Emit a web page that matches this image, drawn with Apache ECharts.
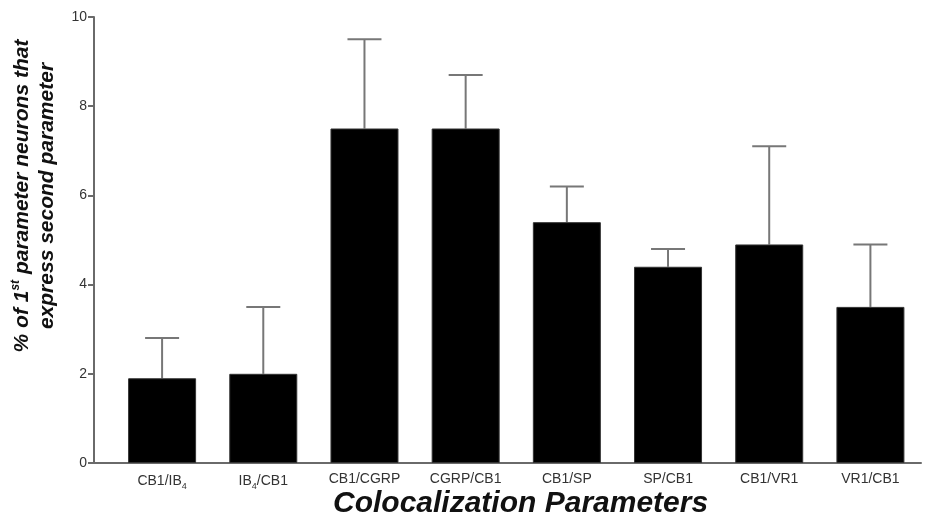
<!DOCTYPE html>
<html>
<head>
<meta charset="utf-8">
<script src="https://cdn.jsdelivr.net/npm/echarts@6/dist/echarts.min.js"></script>
<style>html,body{margin:0;padding:0;background:#fff;}#c{width:929px;height:519px;}</style>
</head>
<body>
<div id="c"></div>
<script>
const categories = ['CB1/IB4', 'IB4/CB1', 'CB1/CGRP', 'CGRP/CB1', 'CB1/SP', 'SP/CB1', 'CB1/VR1', 'VR1/CB1'];
const categoryLabels = ['CB1/IB{sub|4}', 'IB{sub|4}/CB1', 'CB1/CGRP', 'CGRP/CB1', 'CB1/SP', 'SP/CB1', 'CB1/VR1', 'VR1/CB1'];
const means = [1.9, 2.0, 7.5, 7.5, 5.4, 4.4, 4.9, 3.5];
const errTops = [2.8, 3.5, 9.5, 8.7, 6.2, 4.8, 7.1, 4.9];
const yTicks = [0, 2, 4, 6, 8, 10];

const chart = echarts.init(document.getElementById('c'), null, {renderer: 'canvas'});
const font = 'Liberation Sans, Arial, Helvetica, sans-serif';
const axisColor = '#6a6a6a';
const labelColor = '#333';
const titleStyle = {fontFamily: font, fontWeight: 'bold', fontStyle: 'italic', fontSize: 21, fill: '#111', lineHeight: 25};

chart.setOption({
  backgroundColor: '#fff',
  animation: false,
  grid: [
    {left: 94, right: 8, top: 17, bottom: 56, containLabel: false, outerBoundsMode: 'none'},
    {left: 111.5, right: 8, top: 17, bottom: 56, containLabel: false, outerBoundsMode: 'none'}
  ],
  xAxis: [
    {gridIndex: 0, type: 'value', min: 0, max: 1, axisLine: {show: true, onZero: false, lineStyle: {color: axisColor, width: 2}},
     axisTick: {show: false}, axisLabel: {show: false}, splitLine: {show: false}},
    {gridIndex: 1, type: 'category', data: categories, axisLine: {show: false}, axisTick: {show: false},
     axisLabel: {
       interval: 0, margin: 9, fontFamily: font, fontSize: 14, color: labelColor,
       formatter: (v, i) => categoryLabels[i],
       rich: {sub: {fontFamily: font, fontSize: 9, color: labelColor, verticalAlign: 'bottom', padding: [10, 0, 0, 0]}}
     }}
  ],
  yAxis: [
    {gridIndex: 0, type: 'value', min: yTicks[0], max: yTicks[yTicks.length - 1], interval: 2,
     axisLine: {show: true, lineStyle: {color: axisColor, width: 2}},
     axisTick: {show: true, length: 6, lineStyle: {color: axisColor, width: 2}},
     axisLabel: {fontFamily: font, fontSize: 14, color: labelColor, margin: 7},
     splitLine: {show: false}},
    {gridIndex: 1, type: 'value', min: 0, max: 10, show: false}
  ],
  graphic: [
    {type: 'text', left: 333, top: 489,
     style: {text: 'Colocalization Parameters', fontFamily: font, fontWeight: 'bold', fontStyle: 'italic', fontSize: 30, fill: '#111'}},
    {type: 'text', x: 35, y: 196, rotation: Math.PI / 2,
     style: Object.assign({}, titleStyle, {
       text: '{t|% of 1}{sup|st}{t| parameter neurons that}\n{t|express second parameter}',
       align: 'center', verticalAlign: 'middle',
       rich: {
         t: titleStyle,
         sup: Object.assign({}, titleStyle, {fontSize: 12, verticalAlign: 'top', padding: [0, 0, 8, 0]})
       }
     })}
  ],
  series: [
    {type: 'bar', xAxisIndex: 1, yAxisIndex: 1, data: means, barWidth: 68,
     itemStyle: {color: '#000', borderColor: '#333', borderWidth: 1}, z: 2},
    {type: 'custom', xAxisIndex: 1, yAxisIndex: 1, z: 1,
     data: means.map((m, i) => [i, m, errTops[i]]),
     renderItem: function (params, api) {
       const lo = api.coord([api.value(0), api.value(1)]);
       const hi = api.coord([api.value(0), api.value(2)]);
       const half = 17;
       const st = {stroke: '#777', lineWidth: 2};
       return {type: 'group', children: [
         {type: 'line', shape: {x1: lo[0], y1: lo[1], x2: hi[0], y2: hi[1]}, style: st},
         {type: 'line', shape: {x1: hi[0] - half, y1: hi[1], x2: hi[0] + half, y2: hi[1]}, style: st}
       ]};
     }}
  ]
});
</script>
</body>
</html>
